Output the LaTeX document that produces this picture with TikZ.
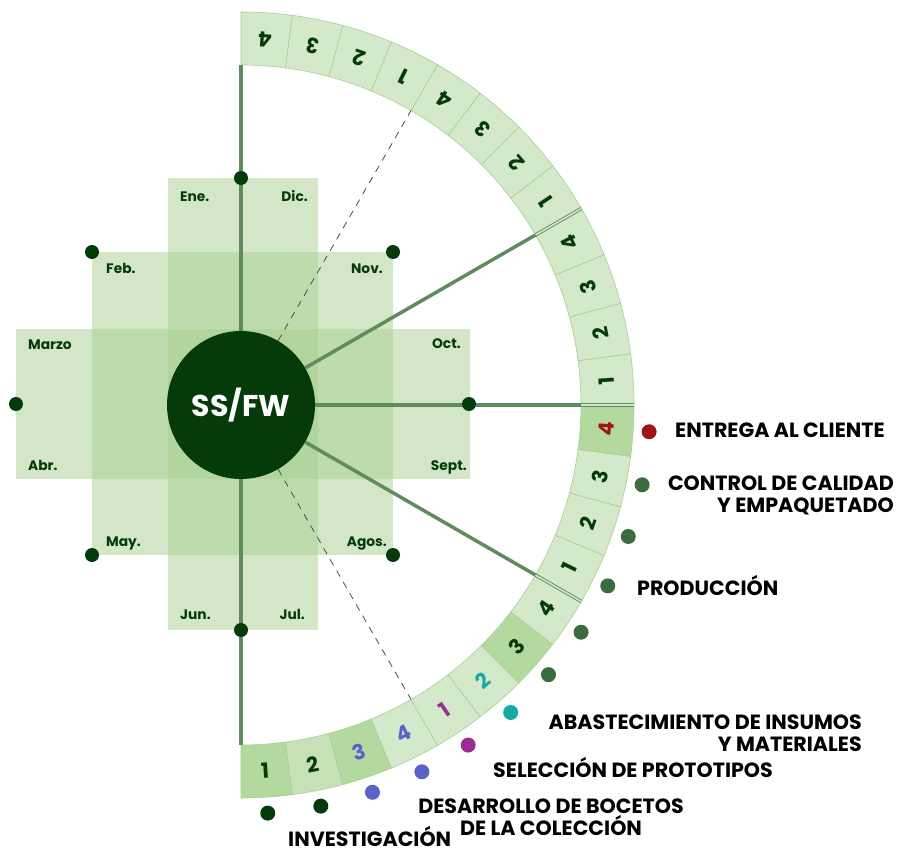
\documentclass[tikz,border=0pt]{standalone}
\usepackage{fontspec}
\setmainfont{Poppins}
\definecolor{dkg}{HTML}{053A0B}
\definecolor{lng}{HTML}{5E8C5F}
\definecolor{crs}{RGB}{167,207,145}
\definecolor{segL}{HTML}{D4E9CA}
\definecolor{segM}{HTML}{C6E1B6}
\definecolor{segD}{HTML}{B4D99F}
\definecolor{segB}{HTML}{A9CD99}
\definecolor{blu}{HTML}{5A62C9}
\definecolor{pur}{HTML}{9A2C92}
\definecolor{tea}{HTML}{17A9A5}
\definecolor{redd}{HTML}{9E1518}
\definecolor{mdg}{HTML}{3D6B40}
\tikzset{
  crossbox/.style={fill=crs, fill opacity=0.5},
  month/.style={font=\bfseries\fontsize{13.8}{15}\selectfont, text=dkg, inner sep=0pt},
  seglab/.style={font=\bfseries\fontsize{21}{22}\selectfont, inner sep=0pt},
  seg/.style={draw=segB, line width=0.6pt},
  spoke/.style={draw=lng, line width=3.5pt},
  dashspoke/.style={draw=black!70, line width=0.8pt, dash pattern=on 7pt off 6pt},
  dblline/.style={draw=lng, double=segL, double distance=1.6pt, line width=0.9pt},
  dot/.style={circle, fill=dkg, minimum size=14pt, inner sep=0pt},
  odot/.style={circle, minimum size=15pt, inner sep=0pt},
  lab/.style={font=\bfseries\fontsize{20.6}{22}\selectfont, text=black, inner sep=0pt},
}
\begin{document}
\begin{tikzpicture}[x=1pt,y=-1pt]
\useasboundingbox (0,0) rectangle (900,853);
% cross of translucent boxes
\fill[crossbox] (168,178) rectangle (318,630);
\fill[crossbox] (92,252) rectangle (393,555);
\fill[crossbox] (16,329) rectangle (470,479);
% month labels
\node[month, anchor=base west] (ene) at (180,202) {Ene.};
\node[month, anchor=base east] (dic) at (308,202) {Dic.};
\node[month, anchor=base west] (feb) at (106,273) {Feb.};
\node[month, anchor=base east] (nov) at (383,273) {Nov.};
\node[month, anchor=base west] (mar) at (28,349) {Marzo};
\node[month, anchor=base east] (oct) at (461,348) {Oct.};
\node[month, anchor=base west] (abr) at (28,470) {Abr.};
\node[month, anchor=base east] (sep) at (467,470) {Sept.};
\node[month, anchor=base west] (may) at (106,546) {May.};
\node[month, anchor=base east] (ago) at (387,546) {Agos.};
\node[month, anchor=base west] (jun) at (180,619) {Jun.};
\node[month, anchor=base east] (jul) at (305,619) {Jul.};
% hub
\node[circle, fill=dkg, minimum size=148pt, inner sep=0pt, text=white,
      font=\bfseries\fontsize{30}{32}\selectfont] (hub) at (241,405) {SS/FW};
\begin{scope}[shift={(241,405)}, yscale=-1]
  \foreach \k/\fc/\tc in {0/segD/dkg,1/segM/dkg,2/segD/blu,3/segL/blu,4/segL/pur,5/segL/tea,
      6/segD/dkg,7/segL/dkg,8/segL/dkg,9/segL/dkg,10/segL/dkg,11/segD/redd,
      12/segL/dkg,13/segL/dkg,14/segL/dkg,15/segL/dkg,16/segL/dkg,17/segL/dkg,
      18/segL/dkg,19/segL/dkg,20/segL/dkg,21/segL/dkg,22/segL/dkg,23/segL/dkg}{
    \pgfmathsetmacro\aa{-90+7.5*\k}
    \pgfmathsetmacro\ab{\aa+7.5}
    \pgfmathsetmacro\am{\aa+3.75}
    \pgfmathtruncatemacro\dg{mod(\k,4)+1}
    \path[seg, fill=\fc] (\aa:340) arc[start angle=\aa, end angle=\ab, radius=340]
       -- (\ab:393) arc[start angle=\ab, end angle=\aa, radius=393] -- cycle;
    \node[seglab, text=\tc, rotate=\am+90] (s\k) at (\am:366.5) {\dg};
  }
  \foreach \a in {30,0,-30}{
    \coordinate (in\a) at (\a:340);
    \coordinate (out\a) at (\a:393);
    \draw[dblline] (in\a) -- (out\a);
  }
  \coordinate (top) at (90:340);
  \coordinate (bot) at (-90:340);
  \coordinate (in60) at (60:340);
  \coordinate (inm60) at (-60:340);
  % outer dots
  \foreach \j/\dc in {0/dkg,1/dkg,2/blu,3/blu,4/pur,5/tea,6/mdg,7/mdg,8/mdg,9/mdg,10/mdg,11/redd}{
    \pgfmathsetmacro\am{-86.25+7.5*\j}
    \node[odot, fill=\dc] (o\j) at (\am:409) {};
  }
\end{scope}
% spokes
\draw[spoke] (hub.north) -- (top);
\draw[spoke] (hub.south) -- (bot);
\draw[spoke] (hub.east) -- (in0);
\draw[spoke] (hub.30) -- (in30);
\draw[spoke] (hub.-30) -- (in-30);
\draw[dashspoke] (hub.60) -- (in60);
\draw[dashspoke] (hub.-60) -- (inm60);
% dots on the cross
\node[dot] (dtop) at (241,178) {};
\node[dot] (dbot) at (241,630) {};
\node[dot] (dright) at (469,404) {};
\node[dot] (dleft) at (16,404) {};
\node[dot] (dtl) at (92,252) {};
\node[dot] (dtr) at (393,252) {};
\node[dot] (dbl) at (92,555) {};
\node[dot] (dbr) at (393,555) {};
% stage labels
\node[lab, anchor=base west] (l1) at (675,437) {ENTREGA AL CLIENTE};
\node[lab, anchor=north east, align=right] (l2) at (894,476) {CONTROL DE CALIDAD\\Y EMPAQUETADO};
\node[lab, anchor=base west] (l3) at (637,595) {PRODUCCIÓN};
\node[lab, anchor=north east, align=right] (l4) at (862,715) {ABASTECIMIENTO DE INSUMOS\\Y MATERIALES};
\node[lab, anchor=base west] (l5) at (493,777) {SELECCIÓN DE PROTOTIPOS};
\node[lab, anchor=north, align=center] (l6) at (551,799) {DESARROLLO DE BOCETOS\\DE LA COLECCIÓN};
\node[lab, anchor=base west] (l7) at (288,846) {INVESTIGACIÓN};
\end{tikzpicture}
\end{document}
